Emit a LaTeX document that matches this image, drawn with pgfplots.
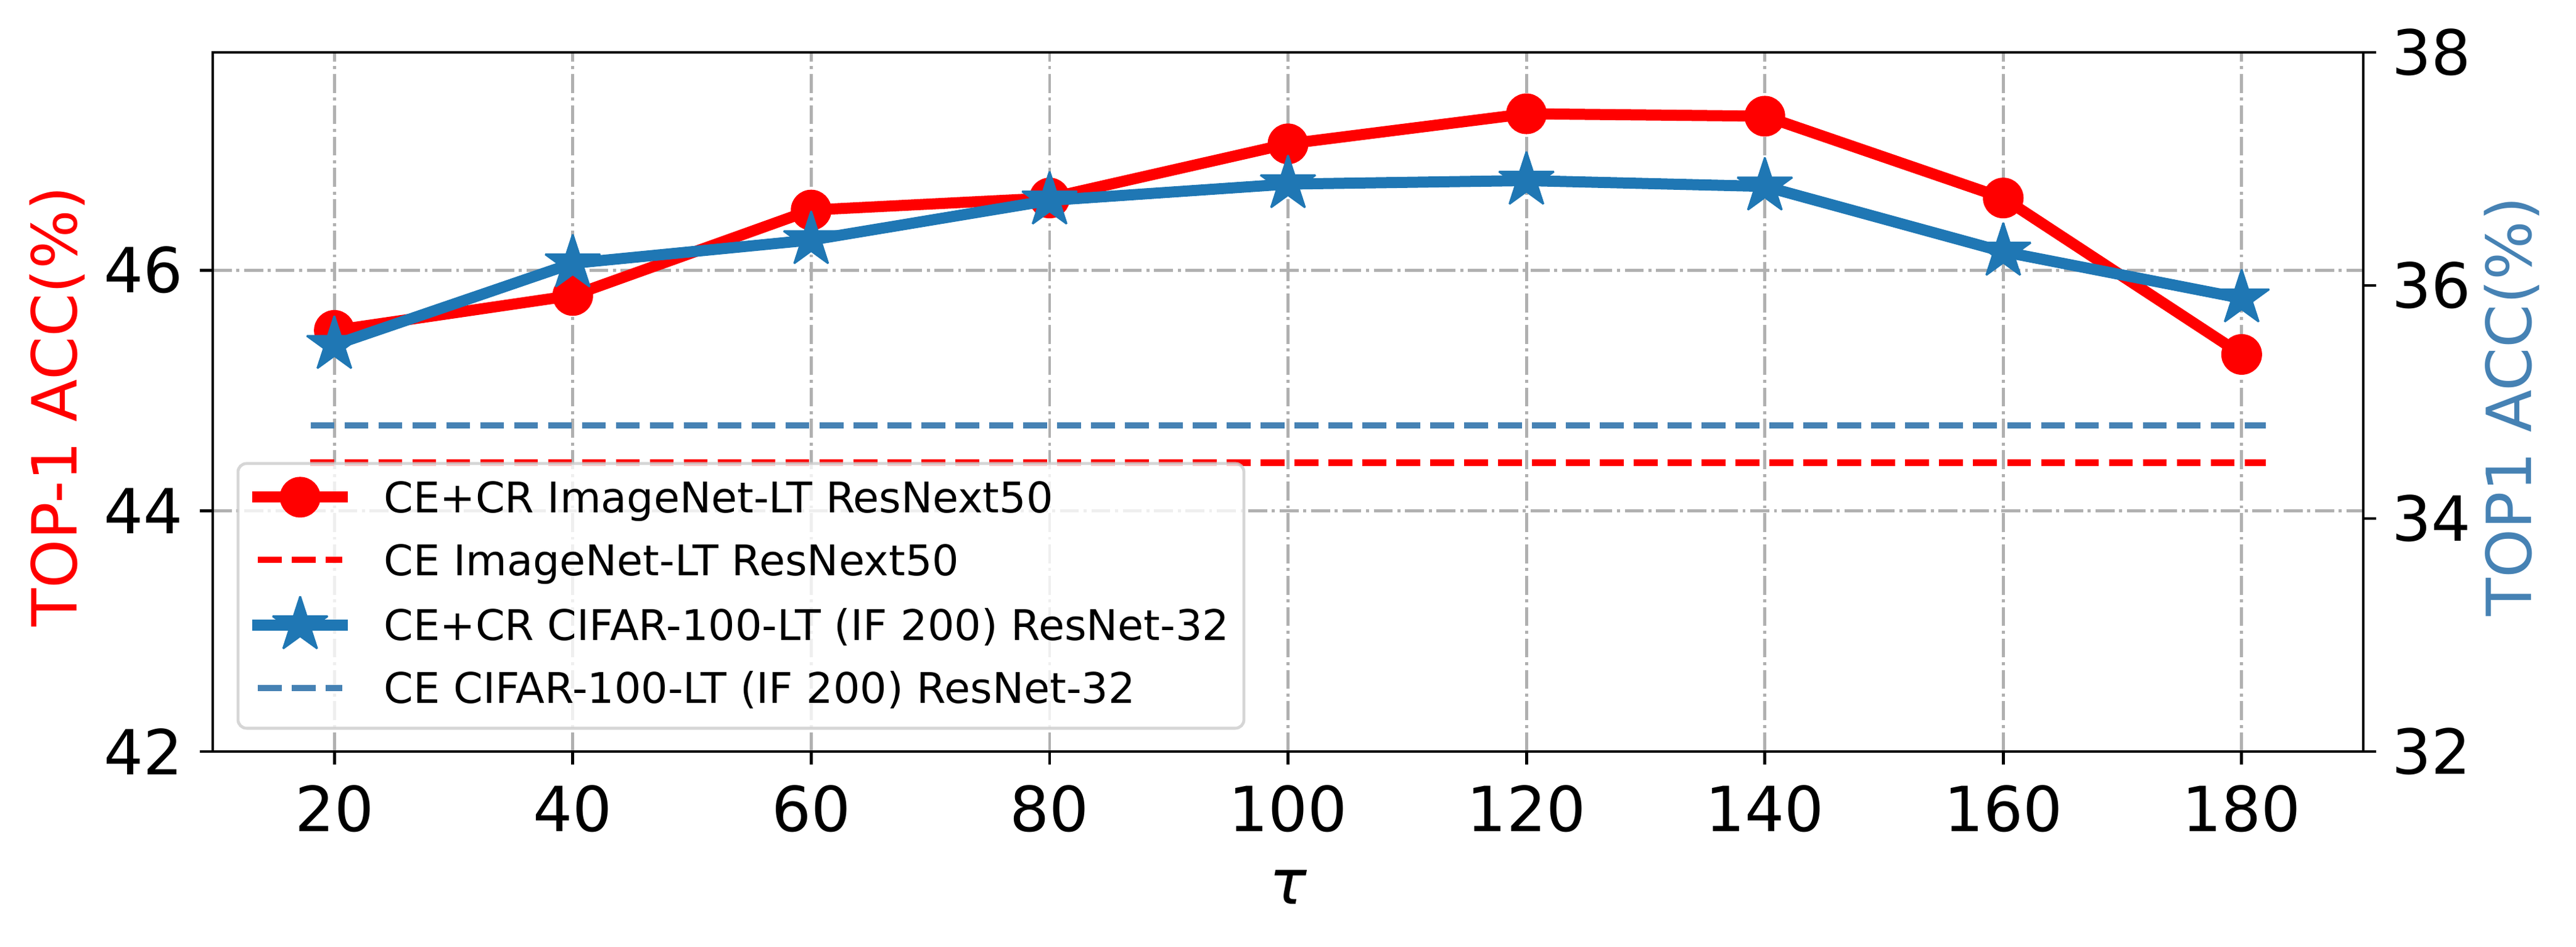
\documentclass[border=0pt]{standalone}
\usepackage{fontspec}
\setmainfont{DejaVu Sans}
\usepackage{pgfplots}
\pgfplotsset{compat=1.18}
\definecolor{tabblue}{HTML}{1F77B4}
\definecolor{steelblue}{HTML}{4682B4}
\definecolor{gridgray}{HTML}{B0B0B0}
\definecolor{legframe}{HTML}{CCCCCC}

\pgfdeclareplotmark{fstar}{%
  \pgfpathmoveto{\pgfqpoint{0pt}{\pgfplotmarksize}}%
  \pgfpathlineto{\pgfqpoint{-0.2245\pgfplotmarksize}{0.3090\pgfplotmarksize}}%
  \pgfpathlineto{\pgfqpoint{-0.9511\pgfplotmarksize}{0.3090\pgfplotmarksize}}%
  \pgfpathlineto{\pgfqpoint{-0.3633\pgfplotmarksize}{-0.1180\pgfplotmarksize}}%
  \pgfpathlineto{\pgfqpoint{-0.5878\pgfplotmarksize}{-0.8090\pgfplotmarksize}}%
  \pgfpathlineto{\pgfqpoint{0pt}{-0.3820\pgfplotmarksize}}%
  \pgfpathlineto{\pgfqpoint{0.5878\pgfplotmarksize}{-0.8090\pgfplotmarksize}}%
  \pgfpathlineto{\pgfqpoint{0.3633\pgfplotmarksize}{-0.1180\pgfplotmarksize}}%
  \pgfpathlineto{\pgfqpoint{0.9511\pgfplotmarksize}{0.3090\pgfplotmarksize}}%
  \pgfpathlineto{\pgfqpoint{0.2245\pgfplotmarksize}{0.3090\pgfplotmarksize}}%
  \pgfpathclose
  \pgfusepathqfillstroke
}

\pgfplotsset{
  base/.style={
    scale only axis, width=581.17bp, height=189bp,
    at={(0,0)}, anchor=south west,
    xmin=9.8, xmax=190.2,
    tick align=outside, major tick length=3.5bp,
    tick style={black, line width=0.8bp},
    axis line style={line width=0.8bp, -},
    ticklabel style={font=\fontsize{16.8bp}{20bp}\selectfont, inner sep=0pt},
    /pgf/number format/assume math mode=true,
    label style={font=\fontsize{16.8bp}{20bp}\selectfont},
  },
}

\begin{document}
\begin{tikzpicture}
\useasboundingbox (-57.5bp,-52.83bp) rectangle (638.67bp,203.17bp);

\begin{axis}[base,
  ymin=42, ymax=47.81, ytick={42,44,46}, xtick={20,40,...,180},
  xtick pos=bottom, ytick pos=left,
  grid=major,
  major grid style={gridgray, line width=0.8bp, dash pattern=on 5.12bp off 1.28bp on 0.8bp off 1.28bp},
  xticklabel style={anchor=north, yshift=-5.4bp},
  yticklabel style={anchor=east, xshift=-4.3bp},
  xlabel={\itshape τ},
  xlabel style={at={(rel axis cs:0.5,0)}, anchor=base, yshift=-41.2bp},
  ylabel={TOP-1 ACC(\%)},
  ylabel style={red, at={(rel axis cs:-0.0631,0.4938)}, anchor=base},
]
\addplot[red, line width=3bp, line join=round, line cap=rect, mark=*, mark size=5bp,
  mark options={solid, line width=1bp, fill=red}]
  coordinates {(20,45.5) (40,45.79) (60,46.5) (80,46.6) (100,47.05) (120,47.3) (140,47.28) (160,46.6) (180,45.3)};
\addplot[red, line width=1.72bp, dash pattern=on 6.45bp off 2.72bp]
  coordinates {(18,44.4) (182,44.4)};
\end{axis}

\begin{axis}[base,
  ymin=32, ymax=38, ytick={32,34,36,38},
  axis x line=none, axis y line*=right,
  yticklabel style={anchor=west, xshift=4.1bp},
  ylabel={TOP1 ACC(\%)},
  ylabel style={steelblue, at={(rel axis cs:1.07817,0.4935)}, anchor=base},
  legend cell align=left,
  legend style={at={(rel axis cs:0.01104,0.0313)}, anchor=south west,
    draw=legframe, draw opacity=0.8, fill=white, fill opacity=0.8, text opacity=1,
    line width=0.8bp, rounded corners=2.3bp,
    inner xsep=3.9bp, inner ysep=2bp, row sep=0.95bp, column sep=9.77bp,
    font=\fontsize{11.4bp}{13.7bp}\selectfont,
    nodes={inner sep=0pt, text height=11.25bp, text depth=4.75bp}},
  legend image code/.code={\draw[sharp corners, opacity=1, mark repeat=2, mark phase=2, yshift=0.9bp, #1]
    plot coordinates {(0bp,0bp) (11.4bp,0bp) (22.8bp,0bp)};},
]
\addlegendimage{red, line width=3bp, line cap=rect, mark=*, mark size=5bp, mark options={solid, line width=1bp, fill=red}}
\addlegendentry{CE+CR ImageNet-LT ResNext50}
\addlegendimage{red, line width=1.72bp, dash pattern=on 6.45bp off 2.72bp}
\addlegendentry{CE ImageNet-LT ResNext50}
\addplot[tabblue, line width=3bp, line join=round, line cap=rect, mark=fstar, mark size=7.8bp,
  mark options={solid, line width=0.5bp, line join=bevel, fill=tabblue}]
  coordinates {(20,35.49) (40,36.19) (60,36.39) (80,36.73) (100,36.87) (120,36.9) (140,36.85) (160,36.29) (180,35.89)};
\addlegendentry{CE+CR CIFAR-100-LT (IF 200) ResNet-32}
\addplot[steelblue, line width=1.72bp, dash pattern=on 6.45bp off 2.72bp]
  coordinates {(18,34.8) (182,34.8)};
\addlegendentry{CE CIFAR-100-LT (IF 200) ResNet-32}
\end{axis}
\end{tikzpicture}
\end{document}
